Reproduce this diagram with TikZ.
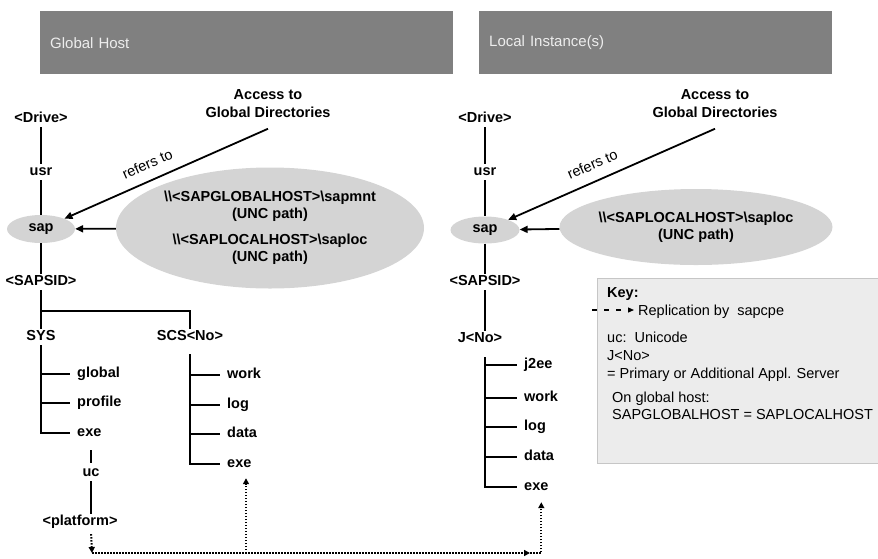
\documentclass[tikz,border=0pt]{standalone}
\usepackage{fontspec}
\setmainfont{Liberation Sans}
\usetikzlibrary{shapes.geometric,arrows.meta}
\definecolor{headgray}{RGB}{128,128,128}
\definecolor{ovalgray}{RGB}{212,212,212}
\definecolor{keygray}{RGB}{236,236,236}
\begin{document}
\begin{tikzpicture}[x=1pt,y=-1pt,
   font=\fontsize{14.5}{17}\selectfont\bfseries,
   every node/.style={inner sep=1.5pt},
   dir/.style={text height=10pt,text depth=3pt},
   leaf/.style={dir,anchor=west,inner xsep=7pt},
   head/.style={fill=headgray,anchor=north west,minimum height=63pt,inner xsep=10pt,align=left,text=white!93!black,font=\fontsize{15}{17}\selectfont},
   oval/.style={ellipse,fill=ovalgray,inner sep=0pt},
   tree/.style={line width=2pt},
   ptr/.style={-{Triangle[length=8pt,width=7pt]},line width=1.8pt},
   repl/.style={-{Triangle[length=6pt,width=6pt]},line width=2pt,dash pattern=on 1.5pt off 1.5pt},
   keyarrow/.style={-{Triangle[length=6pt,width=5pt]},line width=1.2pt,dash pattern=on 5pt off 7pt},
   lbl/.style={font=\fontsize{14.5}{17}\selectfont},
   key/.style={font=\fontsize{14.5}{18}\selectfont,anchor=base west,inner sep=0pt}]
\useasboundingbox (0,0) rectangle (878,558);
\node[head,text width=393pt] (GH) at (40,11) {Global Host};
\node[head,text width=333pt] (LI) at (479,11) {Local Instance(s)};
\node[dir] (D1) at (41,119) {<Drive>};
\node[dir] (U1) at (41,172) {usr};
\node[oval,minimum width=68pt,minimum height=28pt] (S1) at (41,229) {sap};
\node[dir] (I1) at (41,282) {<SAPSID>};
\node[dir] (SYS) at (41,337) {SYS};
\node[dir] (SCS) at (190,337) {SCS<No>};
\node[leaf] (G1) at (70,374) {global};
\node[leaf] (P1) at (70,403) {profile};
\node[leaf] (E1) at (70,433) {exe};
\node[dir] (UC) at (91,473) {uc};
\node[dir] (PL) at (80,522) {<platform>};
\node[leaf] (W1) at (220,375) {work};
\node[leaf] (L1) at (220,405) {log};
\node[leaf] (DA1) at (220,434) {data};
\node[leaf] (E2) at (220,464) {exe};
\node[oval,minimum width=308pt,minimum height=121pt,inner xsep=-1pt,align=center] (M1) at (270,228)
   {\textbackslash\textbackslash<SAPGLOBALHOST>\textbackslash sapmnt\\(UNC path)\\[9pt]\textbackslash\textbackslash<SAPLOCALHOST>\textbackslash saploc\\(UNC path)};
\node[align=center] (A1) at (268,104) {Access to\\[1pt]Global Directories};
\node[dir] (D2) at (485,119) {<Drive>};
\node[dir] (U2) at (485,172) {usr};
\node[oval,minimum width=69pt,minimum height=27pt] (S2) at (485,230) {sap};
\node[dir] (I2) at (485,282) {<SAPSID>};
\node[dir] (J) at (480,339) {J<No>};
\node[leaf] (J2) at (517,365) {j2ee};
\node[leaf] (W2) at (517,398) {work};
\node[leaf] (L2) at (517,427) {log};
\node[leaf] (DA2) at (517,457) {data};
\node[leaf] (E3) at (517,487) {exe};
\node[oval,minimum width=273pt,minimum height=76pt,inner xsep=-1pt,align=center] (M2) at (696,227)
   {\textbackslash\textbackslash<SAPLOCALHOST>\textbackslash saploc\\(UNC path)};
\node[align=center] (A2) at (715,104) {Access to\\[1pt]Global Directories};
\coordinate (F1) at (41,311);
\coordinate (T1) at (190,354);
\coordinate (T2) at (485,357);
\coordinate (R1) at (92,553);
\coordinate (R2) at (246,553);
\coordinate (R3) at (530,553);
\draw[tree] (D1) -- (U1);
\draw[tree] (U1) -- (S1);
\draw[tree] (S1) -- (I1);
\draw[tree] (I1) -- (SYS);
\draw[tree] (F1) -| (SCS);
\draw[tree] (SYS) |- (G1);
\draw[tree] (SYS) |- (P1);
\draw[tree] (SYS) |- (E1);
\draw[tree,shorten <=9pt,shorten >=2pt] (UC |- E1.south) -- (UC);
\draw[tree] (UC) -- (UC |- PL.north);
\draw[tree] (T1) |- (W1);
\draw[tree] (T1) |- (L1);
\draw[tree] (T1) |- (DA1);
\draw[tree] (T1) |- (E2);
\draw[tree] (D2) -- (U2);
\draw[tree] (U2) -- (S2);
\draw[tree] (S2) -- (I2);
\draw[tree] (I2) -- (I2 |- J.north);
\draw[tree] (T2) |- (J2);
\draw[tree] (T2) |- (W2);
\draw[tree] (T2) |- (L2);
\draw[tree] (T2) |- (DA2);
\draw[tree] (T2) |- (E3);
\draw[ptr] (M1) -- (S1);
\draw[ptr] ([yshift=-9pt]A1.south) -- node[lbl,sloped,above=9pt,pos=.56] {refers to} (S1);
\draw[ptr] (M2) -- (S2);
\draw[ptr] ([yshift=-9pt]A2.south) -- node[lbl,sloped,above=9pt,pos=.56] {refers to} (S2);
\draw[repl,shorten <=4pt] (UC |- PL.south) -- (R1);
\draw[repl] (R1) -- (R3);
\draw[repl,shorten >=6pt] (R2) -- (R2 |- E2.south);
\draw[repl,shorten >=7pt] (R3) -| ([xshift=5pt]E3.south);
\node[draw=gray!45,fill=keygray,anchor=north west,minimum width=282pt,minimum height=185pt,inner sep=0pt] (K) at (597,278) {};
\node[key,font=\fontsize{14.5}{18}\selectfont\bfseries] (KT) at (607,297) {Key:};
\coordinate (K1) at (592,310);
\coordinate (K2) at (634,310);
\draw[keyarrow] (K1) -- (K2);
\node[key] (KR) at (638,315) {Replication by\ \ sapcpe};
\node[key] (KU) at (607,342) {uc:\ \ Unicode};
\node[key] (KJ) at (607,360) {J<No>};
\node[key] (KP) at (607,378) {= Primary or Additional Appl. Server};
\node[key] (KO) at (612,402) {On global host:};
\node[key] (KS) at (612,419) {SAPGLOBALHOST = SAPLOCALHOST};
\end{tikzpicture}
\end{document}
